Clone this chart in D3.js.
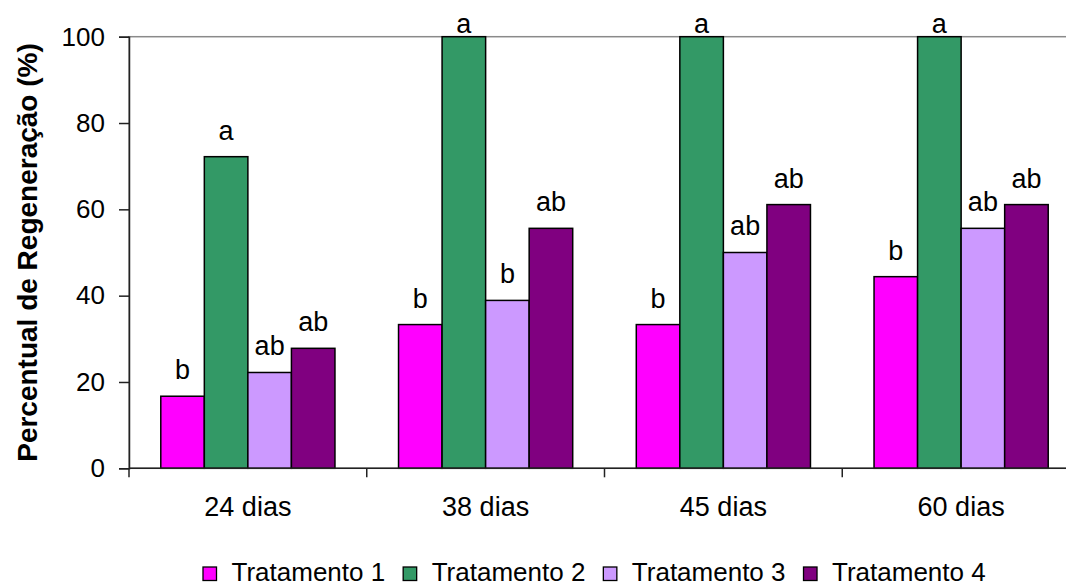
<!DOCTYPE html>
<html>
<head>
<meta charset="utf-8">
<script src="https://cdn.jsdelivr.net/npm/d3@7"></script>
<style>
  html, body { margin: 0; padding: 0; background: #fff; overflow: hidden; }
  svg { display: block; font-family: 'Liberation Sans', Arial, sans-serif; }
</style>
</head>
<body>
<svg id="chart" width="1066" height="587"></svg>
<script>
const categories = ['24 dias', '38 dias', '45 dias', '60 dias']
const series = ['Tratamento 1', 'Tratamento 2', 'Tratamento 3', 'Tratamento 4']
const tratamento1 = [16.7, 33.3, 33.3, 44.4]
const tratamento2 = [72.2, 100, 100, 100]
const tratamento3 = [22.2, 38.9, 50.0, 55.6]
const tratamento4 = [27.8, 55.6, 61.1, 61.1]
const letters1 = ['b', 'b', 'b', 'b']
const letters2 = ['a', 'a', 'a', 'a']
const letters3 = ['ab', 'b', 'ab', 'ab']
const letters4 = ['ab', 'ab', 'ab', 'ab']
const yTicks = [0, 20, 40, 60, 80, 100]

const colors = ['#FF00FF', '#339966', '#CC99FF', '#800080']

const values = [tratamento1, tratamento2, tratamento3, tratamento4]
const letters = [letters1, letters2, letters3, letters4]

const rows = []
categories.forEach((cat, i) => {
  series.forEach((s, j) => {
    rows.push({ cat, series: s, idx: j, value: values[j][i], letter: letters[j][i] })
  })
})

const svg = d3.select('#chart')

// plot area runs past the right edge of the picture, as in the original
const margin = { top: 36.7, left: 129 }
const innerWidth = 951
const innerHeight = 431.6

const g = svg.append('g')
  .attr('transform', `translate(${margin.left},${margin.top})`)

// ------------------
// Scales
// ------------------
const x0 = d3.scaleBand()
  .domain(categories)
  .range([0, innerWidth])
  .padding(0)

const x1 = d3.scaleBand()
  .domain(series)
  .range([0, x0.bandwidth()])
  .paddingInner(0)
  .paddingOuter(0.73)

const y = d3.scaleLinear()
  .domain([0, 100])
  .range([innerHeight, 0])

// plot area border (grey)
g.append('rect')
  .attr('x', 0)
  .attr('y', 0)
  .attr('width', innerWidth)
  .attr('height', innerHeight)
  .attr('fill', 'none')
  .attr('stroke', '#8a8a8a')
  .attr('stroke-width', 1.5)

// ------------------
// Bars
// ------------------
g.selectAll('.bar')
  .data(rows)
  .enter()
  .append('rect')
  .attr('class', 'bar')
  .attr('x', d => x0(d.cat) + x1(d.series))
  .attr('y', d => y(d.value))
  .attr('width', x1.bandwidth())
  .attr('height', d => innerHeight - y(d.value))
  .attr('fill', d => colors[d.idx])
  .attr('stroke', '#000')
  .attr('stroke-width', 1.5)

// significance letters
g.selectAll('.letter')
  .data(rows)
  .enter()
  .append('text')
  .attr('class', 'letter')
  .attr('x', d => x0(d.cat) + x1(d.series) + x1.bandwidth() / 2)
  .attr('y', d => Math.max(y(d.value) - 17, y(100) - 4))
  .attr('text-anchor', 'middle')
  .attr('font-size', 27)
  .attr('fill', '#000')
  .text(d => d.letter)

// ------------------
// Axes
// ------------------
const yAxis = g.append('g')
  .call(d3.axisLeft(y).tickValues(yTicks).tickSize(10).tickPadding(14))
yAxis.select('.domain').attr('stroke', '#222').attr('stroke-width', 1.5)
yAxis.selectAll('.tick line').attr('stroke', '#222').attr('stroke-width', 1.5)
yAxis.selectAll('.tick text')
  .attr('font-size', 26)
  .attr('font-family', "'Liberation Sans', Arial, sans-serif")
  .attr('fill', '#000')

const xAxis = g.append('g')
  .attr('transform', `translate(0,${innerHeight})`)
xAxis.append('line')
  .attr('x1', 0)
  .attr('x2', innerWidth)
  .attr('stroke', '#222')
  .attr('stroke-width', 1.5)
xAxis.selectAll('.sep')
  .data(categories)
  .enter()
  .append('line')
  .attr('x1', d => x0(d))
  .attr('x2', d => x0(d))
  .attr('y1', 0)
  .attr('y2', 9)
  .attr('stroke', '#222')
  .attr('stroke-width', 1.5)
xAxis.selectAll('.cat')
  .data(categories)
  .enter()
  .append('text')
  .attr('x', d => x0(d) + x0.bandwidth() / 2)
  .attr('y', 48)
  .attr('text-anchor', 'middle')
  .attr('font-size', 27)
  .attr('fill', '#000')
  .text(d => d)

// Axis title
svg.append('text')
  .attr('transform', `translate(37,${margin.top + innerHeight / 2}) rotate(-90)`)
  .attr('text-anchor', 'middle')
  .attr('font-weight', 'bold')
  .attr('font-size', 28)
  .attr('fill', '#000')
  .text('Percentual de Regeneração (%)')

// ------------------
// Legend
// ------------------
const legend = svg.append('g')
  .attr('transform', 'translate(203,567)')

let lx = 0
series.forEach((s, i) => {
  const item = legend.append('g').attr('transform', `translate(${lx},0)`)
  item.append('rect')
    .attr('width', 13.5)
    .attr('height', 13.5)
    .attr('fill', colors[i])
    .attr('stroke', '#000')
    .attr('stroke-width', 1.3)
  const t = item.append('text')
    .attr('x', 28.5)
    .attr('y', 14)
    .attr('font-size', 26)
    .attr('fill', '#000')
    .text(s)
  lx += 28.5 + t.node().getComputedTextLength() + 18
})
</script>
</body>
</html>
